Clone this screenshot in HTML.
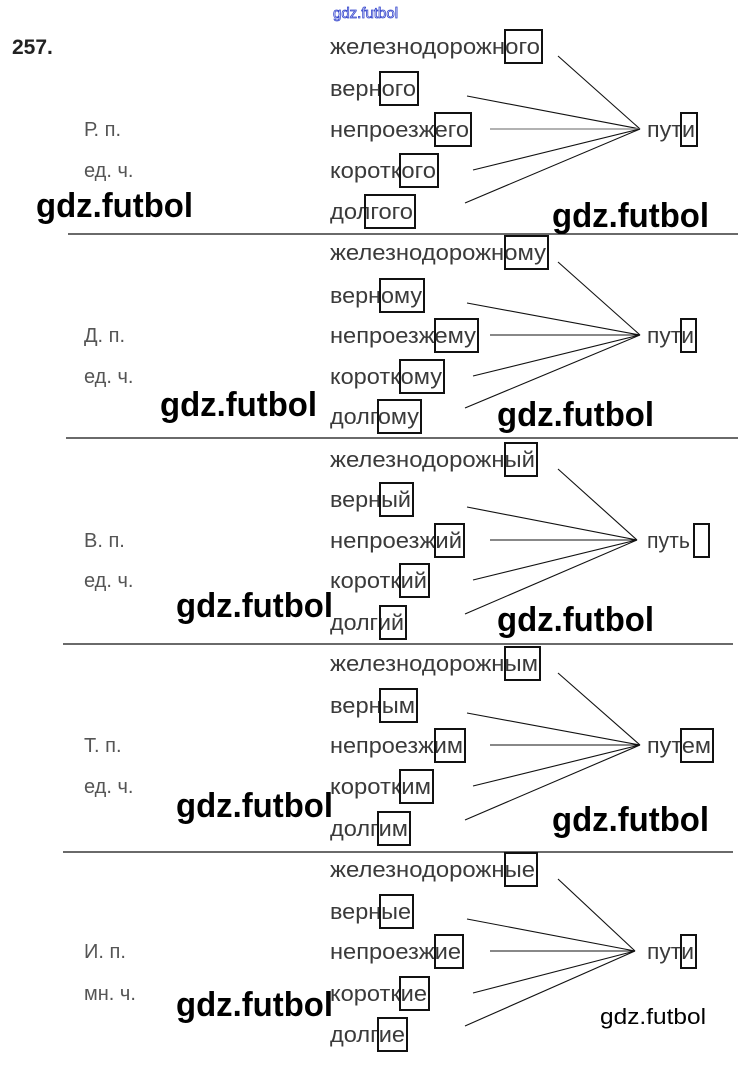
<!DOCTYPE html>
<html><head><meta charset="utf-8"><style>
html,body{margin:0;padding:0;background:#fff;width:746px;height:1066px;overflow:hidden}
svg{display:block}
.w{font-family:"Liberation Sans","DejaVu Sans",sans-serif;font-size:22px;fill:#3a3a3a}
.l{font-family:"Liberation Sans","DejaVu Sans",sans-serif;font-size:20px;fill:#555}
.wm{font-family:"Liberation Sans",sans-serif;font-weight:600;fill:#000}
</style></head><body>
<svg id="s" width="746" height="1066" xmlns="http://www.w3.org/2000/svg">
<text x="333" y="18" style="font-family:'Liberation Sans',sans-serif;font-size:15px;fill:#fff;stroke:#3344cc;stroke-width:0.8">gdz.futbol</text>
<text x="12" y="54" class="wm" style="font-size:21px;fill:#222">257.</text>
</svg>
<script>
var s=document.getElementById('s'),h='';
var rowsY=[[46,88,129,170,211],[252,295,335,376,416],[459,499,540,580,622],[663,705,745,786,828],[869,911,951,993,1034]];
var words=[
 [["железнодорожного",505,542],["верного",380,418],["непроезжего",435,471],["короткого",400,438],["долгого",365,415]],
 [["железнодорожному",505,548],["верному",380,424],["непроезжему",435,478],["короткому",400,444],["долгому",378,421]],
 [["железнодорожный",505,537],["верный",380,413],["непроезжий",435,464],["короткий",400,429],["долгий",380,406]],
 [["железнодорожным",505,540],["верным",380,417],["непроезжим",435,465],["коротким",400,433],["долгим",378,410]],
 [["железнодорожные",505,537],["верные",380,413],["непроезжие",435,463],["короткие",400,429],["долгие",378,407]]];
var fin=[["пути",681,697,697],["пути",681,696,696],["путь",694,709,692],["путем",681,713,713],["пути",681,696,696]];
var jx=[640,640,637,640,635];
var labels=[["Р. п.","ед. ч."],["Д. п.","ед. ч."],["В. п.","ед. ч."],["Т. п.","ед. ч."],["И. п.","мн. ч."]];
var starts=[[558,10],[467,8],[490,0],[473,0],[465,-8]];
for(var i=0;i<5;i++){
 var R=rowsY[i],jy=R[2];
 for(var k=0;k<5;k++){
  var w=words[i][k],y=R[k];
  h+='<text class="w" x="330" y="'+(y+8)+'" textLength="'+(w[2]-332)+'" lengthAdjust="spacingAndGlyphs">'+w[0]+'</text>';
  h+='<rect x="'+w[1]+'" y="'+(y-16)+'" width="'+(w[2]-w[1])+'" height="33" fill="none" stroke="#111" stroke-width="2"/>';
  var sx=starts[k][0],sy=y+starts[k][1];
  h+='<line x1="'+sx+'" y1="'+sy+'" x2="'+jx[i]+'" y2="'+jy+'" stroke="'+(i==0&&k==2?'#999':'#111')+'" stroke-width="'+(i==0&&k==2?1.6:1.1)+'"/>';
 }
 var f=fin[i];
 h+='<text class="w" x="647" y="'+(jy+8)+'" textLength="'+(f[3]-649)+'" lengthAdjust="spacingAndGlyphs">'+f[0]+'</text>';
 h+='<rect x="'+f[1]+'" y="'+(jy-16)+'" width="'+(f[2]-f[1])+'" height="33" fill="none" stroke="#111" stroke-width="2"/>';
 h+='<text class="l" x="84" y="'+(R[2]+7)+'">'+labels[i][0]+'</text>';
 h+='<text class="l" x="84" y="'+(R[3]+7)+'">'+labels[i][1]+'</text>';
}
[[68,234,738],[66,438,738],[63,644,733],[63,852,733]].forEach(function(l){h+='<line x1="'+l[0]+'" y1="'+l[1]+'" x2="'+l[2]+'" y2="'+l[1]+'" stroke="#111" stroke-width="1.2"/>';});
[[36,217],[552,227],[160,416],[497,426],[176,617],[497,631],[176,817],[552,831],[176,1016]].forEach(function(p){h+='<text class="wm" x="'+p[0]+'" y="'+p[1]+'" style="font-size:34px" textLength="157" lengthAdjust="spacingAndGlyphs">gdz.futbol</text>';});
h+='<text class="wm" x="600" y="1024" style="font-size:22px;font-weight:normal" textLength="106" lengthAdjust="spacingAndGlyphs">gdz.futbol</text>';
s.insertAdjacentHTML('beforeend',h);
</script>
</body></html>
